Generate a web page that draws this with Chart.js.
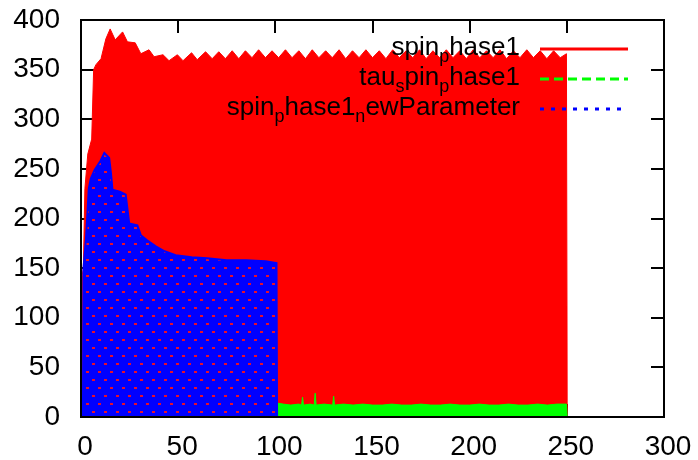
<!DOCTYPE html>
<html>
<head>
<meta charset="utf-8">
<script src="https://cdn.jsdelivr.net/npm/chart.js@4.4.1/dist/chart.umd.min.js"></script>
<style>
  html, body { margin: 0; padding: 0; background: #fff; }
  #wrap { width: 698px; height: 460px; }
</style>
</head>
<body>
<div id="wrap"><canvas id="chart" width="698" height="460"></canvas></div>
<script>
// values (upper edge of each densely oscillating series)
const redX = [0, 0.4, 1.2, 2, 3.5, 5.5, 6.5, 7.7, 10.3, 12.8,
  15, 17.6, 21.4, 23.9, 27.9, 30.8, 35, 37.6, 42.2, 45.3,
  49.6, 52.5, 56.9, 59.8, 64.1, 67.5, 70.9, 74.3, 77.8, 81.2,
  84.6, 88, 91.4, 94.9, 98.3, 101.7, 105.2, 108.6, 112.1, 115.5,
  119, 122.4, 125.9, 129.3, 132.8, 136.2, 139.7, 143.1, 146.6, 150,
  153.5, 156.9, 160.4, 163.8, 167.3, 170.7, 174.2, 177.6, 181.1, 184.5,
  188, 191.4, 194.9, 198.3, 201.8, 205.2, 208.7, 212.1, 215.6, 219,
  222.5, 225.9, 229.4, 232.8, 236.3, 239.7, 243.2, 246.6, 249.8, 250.2];
const redY = [0, 140, 150, 230, 265, 280, 350, 355, 361, 381,
  391, 380, 388, 378, 377, 366, 370, 363, 365, 359,
  365, 359, 367, 360, 368, 361, 368, 361, 369, 361,
  369, 362, 370, 362, 369, 362, 370, 362, 369, 361,
  370, 362, 369, 362, 370, 361, 369, 362, 370, 362,
  369, 361, 370, 362, 369, 362, 370, 361, 369, 362,
  370, 362, 369, 361, 370, 362, 369, 362, 370, 361,
  369, 362, 370, 362, 369, 361, 369, 362, 366, 0];

const greenX = [0, 0.5, 3, 10, 30, 60, 90, 100, 101, 104,
  108, 112, 113.5, 114, 114.5, 118, 120, 120.5, 121, 125,
  129.5, 130, 130.5, 135, 140, 145, 150, 155, 160, 165,
  170, 175, 180, 185, 190, 195, 200, 205, 210, 215,
  220, 225, 230, 235, 240, 245, 249.8, 250.2];
const greenY = [0, 22, 15, 14, 13, 13, 13, 13, 14, 13,
  12, 13, 12, 20, 12, 13, 12, 24, 12, 13,
  12, 21, 12, 13, 12, 13, 12, 12, 13, 12,
  12, 13, 12, 12, 13, 12, 12, 13, 12, 12,
  13, 12, 12, 13, 12, 13, 13, 0];

const blueX = [1, 1.3, 2.6, 4, 5, 7, 10, 12, 14.5, 15.4,
  16.2, 20, 23, 24.8, 29, 30.8, 34, 38.5, 43, 48.7,
  57, 65, 75, 85, 95, 100.6, 100.9];
const blueY = [0, 150, 181, 230, 240, 249, 258, 266, 261, 246,
  229, 227, 224, 195, 193, 183, 178, 172, 167, 163,
  161, 160, 158, 158, 157, 155, 0];

const legendLabels = ["spin_phase1", "tau_spin_phase1", "spin_phase1_newParameter"];
const xTicks = [0, 50, 100, 150, 200, 250, 300];
const yTicks = [0, 50, 100, 150, 200, 250, 300, 350, 400];

const FONT = "'Liberation Sans', Arial, sans-serif";
const RED = "#ff0000", GREEN = "#00ff00", BLUE = "#0000ff";

const toPoints = (xs, ys) => xs.map((x, i) => ({ x: x, y: ys[i] }));

// blue trace is a dotted line drawn very densely, red shows through the gaps
function meshPattern() {
  const c = document.createElement("canvas");
  c.width = 12;
  c.height = 16;
  const g = c.getContext("2d");
  g.fillStyle = BLUE;
  g.fillRect(0, 0, 12, 16);
  g.fillStyle = "#e8102a";
  g.fillRect(2, 3, 3, 2);
  g.fillRect(8, 11, 3, 2);
  return g.createPattern(c, "repeat");
}

// gnuplot enhanced text: "_" puts the next character in subscript
function splitEnhanced(label) {
  const parts = [];
  let cur = "";
  for (let i = 0; i < label.length; i++) {
    if (label[i] === "_" && i + 1 < label.length) {
      if (cur) parts.push({ t: cur, sub: false });
      parts.push({ t: label[i + 1], sub: true });
      cur = "";
      i++;
    } else {
      cur += label[i];
    }
  }
  if (cur) parts.push({ t: cur, sub: false });
  return parts;
}

const frameAndTicks = {
  id: "frameAndTicks",
  beforeDatasetsDraw(chart) {
    const { ctx, chartArea: a, scales } = chart;
    const len = 13;
    ctx.save();
    ctx.strokeStyle = "#000";
    ctx.lineWidth = 2;
    ctx.beginPath();
    xTicks.forEach((v) => {
      const px = Math.round(scales.x.getPixelForValue(v));
      ctx.moveTo(px, a.bottom); ctx.lineTo(px, a.bottom - len);
      ctx.moveTo(px, a.top); ctx.lineTo(px, a.top + len);
    });
    yTicks.forEach((v) => {
      const py = Math.round(scales.y.getPixelForValue(v));
      ctx.moveTo(a.left, py); ctx.lineTo(a.left + len, py);
      ctx.moveTo(a.right, py); ctx.lineTo(a.right - len, py);
    });
    ctx.stroke();
    ctx.restore();
  },
  afterDatasetsDraw(chart) {
    const { ctx, chartArea: a } = chart;
    ctx.save();
    ctx.strokeStyle = "#000";
    ctx.lineWidth = 2;
    ctx.strokeRect(a.left, a.top, a.right - a.left, a.bottom - a.top);
    ctx.restore();
  },
};

const keyBox = {
  id: "keyBox",
  afterDraw(chart) {
    const ctx = chart.ctx;
    const styles = [
      { color: RED, dash: [] },
      { color: GREEN, dash: [9, 5] },
      { color: BLUE, dash: [4, 7] },
    ];
    const textRight = 520, lineX0 = 540, lineX1 = 628;
    const big = "26px " + FONT, small = "18px " + FONT;
    ctx.save();
    legendLabels.forEach((label, i) => {
      const base = 55 + i * 30;
      const parts = splitEnhanced(label);
      let w = 0;
      parts.forEach((p) => {
        ctx.font = p.sub ? small : big;
        p.w = ctx.measureText(p.t).width;
        w += p.w;
      });
      let x = textRight - w;
      ctx.fillStyle = "#000";
      ctx.textBaseline = "alphabetic";
      ctx.textAlign = "left";
      parts.forEach((p) => {
        ctx.font = p.sub ? small : big;
        ctx.fillText(p.t, x, p.sub ? base + 7 : base);
        x += p.w;
      });
      ctx.strokeStyle = styles[i].color;
      ctx.lineWidth = 3;
      ctx.lineCap = "butt";
      ctx.setLineDash(styles[i].dash);
      ctx.beginPath();
      ctx.moveTo(lineX0, base - 6);
      ctx.lineTo(lineX1, base - 6);
      ctx.stroke();
      ctx.setLineDash([]);
    });
    ctx.restore();
  },
};

new Chart(document.getElementById("chart"), {
  type: "line",
  data: {
    datasets: [
      {
        label: legendLabels[0],
        data: toPoints(redX, redY),
        borderColor: RED,
        backgroundColor: RED,
        borderWidth: 1,
        fill: "origin",
        order: 3,
      },
      {
        label: legendLabels[1],
        data: toPoints(greenX, greenY),
        borderColor: GREEN,
        backgroundColor: GREEN,
        borderWidth: 1,
        fill: "origin",
        order: 2,
      },
      {
        label: legendLabels[2],
        data: toPoints(blueX, blueY),
        borderColor: BLUE,
        backgroundColor: meshPattern(),
        borderWidth: 2,
        fill: "origin",
        order: 1,
      },
    ],
  },
  options: {
    responsive: false,
    animation: false,
    devicePixelRatio: 1,
    elements: { point: { radius: 0 }, line: { tension: 0 } },
    layout: { padding: { top: 20, right: 34, left: 0, bottom: 0 } },
    plugins: { legend: { display: false }, tooltip: { enabled: false } },
    scales: {
      x: {
        type: "linear",
        min: 0,
        max: 300,
        afterBuildTicks: (s) => { s.ticks = xTicks.map((v) => ({ value: v })); },
        afterFit: (s) => {
          s.height = 43;
          s.paddingLeft = 0;
          s.paddingRight = 0;
        },
        grid: { display: false, drawTicks: false },
        border: { display: false },
        ticks: { color: "#000", font: { family: FONT, size: 28 }, padding: 13, labelOffset: 4, maxRotation: 0 },
      },
      y: {
        type: "linear",
        min: 0,
        max: 400,
        afterBuildTicks: (s) => { s.ticks = yTicks.map((v) => ({ value: v })); },
        afterFit: (s) => {
          s.width = 81;
          s.paddingTop = 0;
          s.paddingBottom = 0;
        },
        grid: { display: false, drawTicks: false },
        border: { display: false },
        ticks: { color: "#000", font: { family: FONT, size: 28 }, padding: 21 },
      },
    },
  },
  plugins: [frameAndTicks, keyBox],
});
</script>
</body>
</html>
